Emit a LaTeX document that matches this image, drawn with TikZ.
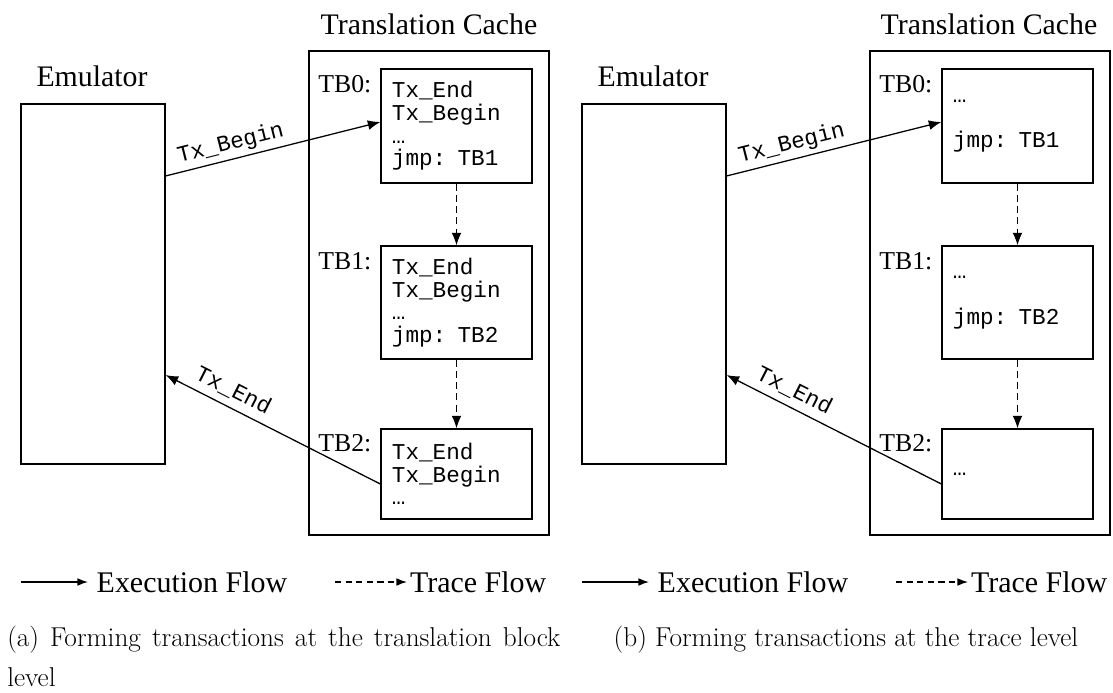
\documentclass[tikz,border=0pt]{standalone}
\usepackage{fontspec}
\newfontfamily\serifT{Liberation Serif}
\newfontfamily\monoT{Liberation Mono}
\usetikzlibrary{arrows.meta}

\begin{document}
\begin{tikzpicture}[x=0.025cm,y=-0.025cm,
	emu node/.style={draw, line width=0.9pt, minimum width=3.6cm, minimum height=9cm},
	cache node/.style={draw, line width=0.9pt, minimum width=6cm, minimum height=12.1cm},
	tb node/.style={draw, line width=0.9pt, minimum width=3.775cm, text width=3.225cm, inner xsep=0.275cm, inner ysep=0pt, align=left, font=\fontsize{16.1}{16.1}\selectfont\monoT},
	title/.style={inner sep=0pt, font=\fontsize{21.2}{24}\selectfont\serifT},
	tb label/.style={inner sep=0pt, anchor=north east, font=\fontsize{18.3}{20}\selectfont\serifT},
	flow label/.style={sloped, above, inner sep=3pt, font=\fontsize{16.1}{16.1}\selectfont\monoT},
	legend/.style={anchor=west, inner ysep=0pt, font=\fontsize{21.3}{24}\selectfont\serifT},
	caption/.style={inner sep=0pt, font=\fontsize{19.4}{28}\selectfont},
	exec/.style={line width=0.9pt, -{Latex[length=8.9pt,width=7pt]}},
	trace/.style={exec, dash pattern=on 5pt off 3pt},
	exec key/.style={line width=0.9pt, -{Latex[length=7.5pt,width=5.5pt]}},
	trace key/.style={exec key, dash pattern=on 4.5pt off 3pt}]
	\useasboundingbox (0,0) rectangle (1113,692);
	
	% (a) translation block level
	\node[emu node] (emu1) at (93,284) {};
	\node[title] (emutitle1) at (92,76) {Emulator};
	\node[cache node] (cache1) at (429,293) {};
	\node[title] (cachetitle1) at (429,24) {Translation Cache};
	
	\node[tb node, minimum height=2.85cm] (tb01) at (456.5,126) {Tx\_End\\Tx\_Begin\\…\\jmp: TB1};
	\node[tb node, minimum height=2.825cm] (tb11) at (456.5,302.5) {Tx\_End\\Tx\_Begin\\…\\jmp: TB2};
	\node[tb node, minimum height=2.25cm] (tb21) at (456.5,474) {Tx\_End\\Tx\_Begin\\…};
	\node[tb label] (tb0lab1) at ([xshift=-0.22cm,yshift=-0.175cm]tb01.north west) {TB0:};
	\node[tb label] (tb1lab1) at ([xshift=-0.22cm,yshift=-0.175cm]tb11.north west) {TB1:};
	\node[tb label] (tb2lab1) at ([xshift=-0.22cm,yshift=-0.15cm]tb21.north west) {TB2:};
	
	\draw[exec] ([yshift=2.7cm]emu1.east) -- node[flow label, pos=0.32] {Tx\_Begin} ([yshift=0.1cm]tb01.west);
	\draw[exec] ([yshift=-0.25cm]tb21.west) -- node[flow label, pos=0.72, inner sep=5pt] {Tx\_End} ([yshift=-2.275cm]emu1.east);
	\draw[trace] (tb01.south) -- (tb11.north);
	\draw[trace] (tb11.south) -- (tb21.north);
	
	\coordinate (execstart1) at (21,582);
	\node[legend, inner xsep=6pt] (exec1) at (88,582) {Execution Flow};
	\draw[exec key] (execstart1) -- (exec1.west);
	\coordinate (tracestart1) at (335,582);
	\node[legend, inner xsep=2pt] (trace1) at (407,582) {Trace Flow};
	\draw[trace key] (tracestart1) -- (trace1.west);
	
	\node[caption, text width=13.825cm, align=justify, anchor=north west] (capa) at (7,626) {(a) Forming transactions at the translation block level};
	
	% (b) trace level
	\node[emu node] (emu2) at (654,284) {};
	\node[title] (emutitle2) at (653,76) {Emulator};
	\node[cache node] (cache2) at (990,293) {};
	\node[title] (cachetitle2) at (989,24) {Translation Cache};
	
	\node[tb node, minimum height=2.85cm] (tb02) at (1017.5,126) {…\\[16.1pt]jmp: TB1};
	\node[tb node, minimum height=2.825cm] (tb12) at (1017.5,302.5) {…\\[16.1pt]jmp: TB2};
	\node[tb node, minimum height=2.25cm] (tb22) at (1017.5,474) {…};
	\node[tb label] (tb0lab2) at ([xshift=-0.22cm,yshift=-0.175cm]tb02.north west) {TB0:};
	\node[tb label] (tb1lab2) at ([xshift=-0.22cm,yshift=-0.175cm]tb12.north west) {TB1:};
	\node[tb label] (tb2lab2) at ([xshift=-0.22cm,yshift=-0.15cm]tb22.north west) {TB2:};
	
	\draw[exec] ([yshift=2.7cm]emu2.east) -- node[flow label, pos=0.32] {Tx\_Begin} ([yshift=0.1cm]tb02.west);
	\draw[exec] ([yshift=-0.25cm]tb22.west) -- node[flow label, pos=0.72, inner sep=5pt] {Tx\_End} ([yshift=-2.275cm]emu2.east);
	\draw[trace] (tb02.south) -- (tb12.north);
	\draw[trace] (tb12.south) -- (tb22.north);
	
	\coordinate (execstart2) at (582,582);
	\node[legend, inner xsep=6pt] (exec2) at (649,582) {Execution Flow};
	\draw[exec key] (execstart2) -- (exec2.west);
	\coordinate (tracestart2) at (896,582);
	\node[legend, inner xsep=2pt] (trace2) at (968,582) {Trace Flow};
	\draw[trace key] (tracestart2) -- (trace2.west);
	
	\node[caption, anchor=north] (capb) at (846,626) {(b) Forming transactions at the trace level};
	
\end{tikzpicture}
\end{document}
